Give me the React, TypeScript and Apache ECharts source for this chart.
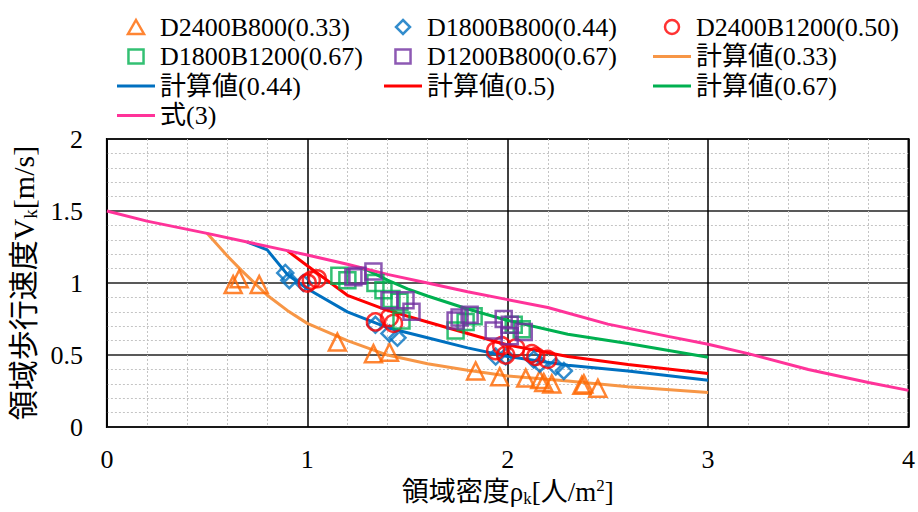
import React, { useEffect, useRef } from "react";
import * as echarts from "echarts";

const FONT = "Liberation Serif, DejaVu Serif, Noto Sans CJK JP, serif";

// Measured points [density, speed]
const ptsD2400B800 = [
  [0.63, 0.99], [0.66, 1.03], [0.76, 0.99], [1.15, 0.59], [1.33, 0.51], [1.41, 0.52],
  [1.84, 0.39], [1.96, 0.35], [2.09, 0.34], [2.16, 0.33], [2.18, 0.31], [2.22, 0.30],
  [2.37, 0.29], [2.38, 0.30], [2.45, 0.27],
];
const ptsD1800B800 = [
  [0.89, 1.07], [0.91, 1.02], [0.98, 1.0], [1.34, 0.71], [1.41, 0.65], [1.45, 0.62],
  [1.94, 0.49], [1.99, 0.49], [2.13, 0.47], [2.16, 0.44], [2.24, 0.42], [2.28, 0.39],
];
const ptsD2400B1200 = [
  [1.0, 1.0], [1.02, 1.02], [1.05, 1.03], [1.34, 0.73], [1.41, 0.76], [1.43, 0.72],
  [1.94, 0.53], [1.97, 0.565], [1.99, 0.5], [2.04, 0.55], [2.12, 0.51], [2.14, 0.49], [2.2, 0.47],
];
const ptsD1800B1200 = [
  [1.16, 1.05], [1.2, 1.02], [1.34, 1.0], [1.38, 0.95], [1.42, 0.89], [1.46, 0.87], [1.47, 0.74],
  [1.74, 0.67], [1.79, 0.73], [1.83, 0.77], [2.03, 0.71], [2.07, 0.68],
];
const ptsD1200B800 = [
  [1.23, 1.04], [1.25, 1.05], [1.33, 1.08], [1.41, 0.88], [1.49, 0.88], [1.52, 0.8],
  [1.74, 0.74], [1.76, 0.76], [1.81, 0.78], [1.93, 0.67], [1.98, 0.75], [2.01, 0.71],
  [2.01, 0.63], [2.08, 0.66],
];

// Calculated curves
const calc033 = [
  [0.5, 1.345], [0.6, 1.19], [0.67, 1.09], [0.8, 0.915], [0.9, 0.81], [1.0, 0.72], [1.2, 0.6],
  [1.4, 0.5], [1.6, 0.44], [1.8, 0.395], [2.0, 0.355], [2.3, 0.32], [2.6, 0.28], [3.0, 0.24],
];
const calc044 = [
  [0.7, 1.285], [0.8, 1.23], [0.9, 1.06], [1.0, 0.96], [1.2, 0.8], [1.4, 0.69], [1.6, 0.62],
  [1.8, 0.55], [2.0, 0.49], [2.3, 0.43], [2.6, 0.39], [3.0, 0.325],
];
const calc05 = [
  [0.9, 1.225], [1.0, 1.12], [1.2, 0.915], [1.4, 0.81], [1.6, 0.73], [1.8, 0.65], [2.0, 0.57],
  [2.3, 0.49], [2.6, 0.435], [3.0, 0.372],
];
const calc067 = [
  [1.25, 1.11], [1.3, 1.09], [1.4, 1.02], [1.5, 0.96], [1.6, 0.91], [1.8, 0.82], [2.0, 0.74],
  [2.3, 0.645], [2.6, 0.58], [3.0, 0.485],
];
const eq3 = [
  [0, 1.5], [0.2, 1.43], [0.5, 1.345], [0.7, 1.285], [0.9, 1.225], [1.0, 1.195], [1.2, 1.13],
  [1.4, 1.06], [1.6, 1.0], [1.8, 0.94], [2.0, 0.885], [2.2, 0.83], [2.5, 0.715], [2.8, 0.63],
  [3.0, 0.575], [3.2, 0.51], [3.5, 0.4], [3.8, 0.31], [4.0, 0.255],
];

const xTicks = { min: 0, max: 4, interval: 1 };
const yTicks = { min: 0, max: 2, interval: 0.5 };

const legendCol1 = ["D2400B800(0.33)", "D1800B1200(0.67)", "計算値(0.44)", "式(3)"];
const legendCol2 = ["D1800B800(0.44)", "D1200B800(0.67)", "計算値(0.5)"];
const legendCol3 = ["D2400B1200(0.50)", "計算値(0.33)", "計算値(0.67)"];

const LINE_ICON = "path://M0,0 L38,0 L38,3 L0,3 Z";
const iconOf: Record<string, string> = {
  "D2400B800(0.33)": "path://M8,0 L16,14 L0,14 Z",
  "D1800B800(0.44)": "path://M7,0 L14,7 L7,14 L0,7 Z",
  "D2400B1200(0.50)": "path://M0,7 A7,7 0 1,1 14,7 A7,7 0 1,1 0,7 Z",
  "D1800B1200(0.67)": "path://M0,0 L14,0 L14,13 L0,13 Z",
  "D1200B800(0.67)": "path://M0,0 L14,0 L14,13 L0,13 Z",
};

export default function App() {
  const ref = useRef<HTMLDivElement>(null);
  useEffect(() => {
    const chart = echarts.init(ref.current!, null, { renderer: "svg" });
    const lineS = (name: string, data: number[][], color: string) => ({
      name,
      type: "line",
      data,
      symbol: "none",
      showSymbol: false,
      lineStyle: { color, width: 3 },
      itemStyle: { color },
      z: 2,
    });
    const scat = (name: string, data: number[][], color: string, symbol: string, size: number) => ({
      name,
      type: "scatter",
      data,
      symbol,
      symbolSize: size,
      itemStyle: { color: "transparent", borderColor: color, borderWidth: 2.5 },
      z: 3,
    });
    const legendData = (names: string[]) =>
      names.map((n) =>
        iconOf[n]
          ? { name: n, icon: iconOf[n], itemStyle: { borderWidth: 2.5 } }
          : { name: n, icon: LINE_ICON, itemStyle: { borderWidth: 0 } }
      );
    const legendBase = {
      orient: "vertical",
      top: 9,
      itemWidth: 38,
      itemHeight: 14,
      itemGap: 3.5,
      selectedMode: false,
      symbolKeepAspect: true,
      textStyle: { fontFamily: FONT, fontSize: 26, color: "#000", lineHeight: 26 },
    };
    const axisFont = { fontFamily: FONT, fontSize: 26, color: "#000" };
    chart.setOption({
      animation: false,
      backgroundColor: "#fff",
      textStyle: { fontFamily: FONT },
      grid: {
        left: 102,
        right: 7,
        top: 139,
        bottom: 76,
        show: true,
        borderColor: "#000",
        borderWidth: 2,
        containLabel: false,
      },
      legend: [
        { ...legendBase, left: 112, data: legendData(legendCol1) },
        { ...legendBase, left: 379, data: legendData(legendCol2) },
        { ...legendBase, left: 648, data: legendData(legendCol3) },
      ],
      xAxis: {
        type: "value",
        ...xTicks,
        axisLine: { show: false },
        axisTick: { show: false },
        axisLabel: { ...axisFont, margin: 19 },
        splitLine: { show: true, lineStyle: { color: "#000", width: 1.5 } },
        minorTick: { show: false, splitNumber: 5 },
        minorSplitLine: { show: true, lineStyle: { color: "#c4c4c4", width: 1, type: [2, 2] } },
        name: "{a|領域密度ρ}{b|k}{a|[人/m}{c|2}{a|]}",
        nameLocation: "middle",
        nameGap: 49,
        nameTextStyle: {
          fontFamily: FONT,
          color: "#000",
          rich: {
            a: { fontFamily: FONT, fontSize: 27, lineHeight: 30, color: "#000" },
            b: { fontFamily: FONT, fontSize: 17, lineHeight: 14, verticalAlign: "bottom", color: "#000" },
            c: { fontFamily: FONT, fontSize: 17, lineHeight: 20, verticalAlign: "top", color: "#000" },
          },
        },
      },
      yAxis: {
        type: "value",
        ...yTicks,
        axisLine: { show: false },
        axisTick: { show: false },
        axisLabel: { ...axisFont, margin: 24 },
        splitLine: { show: true, lineStyle: { color: "#222", width: 1.5 } },
        minorTick: { show: false, splitNumber: 5 },
        minorSplitLine: { show: true, lineStyle: { color: "#c4c4c4", width: 1, type: [2, 2] } },
        name: "{a|領域歩行速度V}{b|k}{a|[m/s]}",
        nameLocation: "middle",
        nameGap: 63,
        nameTextStyle: {
          fontFamily: FONT,
          color: "#000",
          rich: {
            a: { fontFamily: FONT, fontSize: 30, lineHeight: 33, color: "#000" },
            b: { fontFamily: FONT, fontSize: 19, lineHeight: 15, verticalAlign: "bottom", color: "#000" },
          },
        },
      },
      series: [
        lineS("計算値(0.33)", calc033, "#F79646"),
        lineS("計算値(0.44)", calc044, "#0070C0"),
        lineS("計算値(0.5)", calc05, "#FF0000"),
        lineS("計算値(0.67)", calc067, "#00B050"),
        lineS("式(3)", eq3, "#FF3399"),
        scat("D2400B800(0.33)", ptsD2400B800, "#FF6600", "triangle", 17),
        scat("D1800B800(0.44)", ptsD1800B800, "#0070C0", "diamond", 16),
        scat("D2400B1200(0.50)", ptsD2400B1200, "#FF0000", "circle", 17),
        scat("D1800B1200(0.67)", ptsD1800B1200, "#00B050", "rect", 16),
        scat("D1200B800(0.67)", ptsD1200B800, "#7030A0", "rect", 16),
      ],
    });
    return () => chart.dispose();
  }, []);
  return (
    <div
      ref={ref}
      style={{ position: "fixed", left: 0, top: 0, width: 918, height: 512 }}
    />
  );
}
